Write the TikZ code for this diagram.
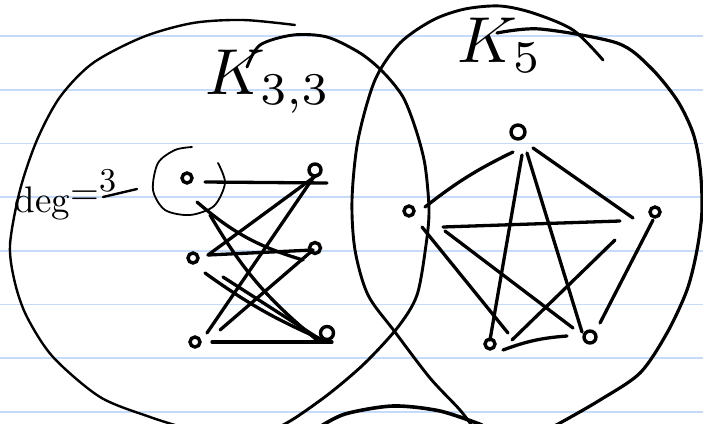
\documentclass[tikz,border=0pt]{standalone}
\usetikzlibrary{calc}
\definecolor{paper}{RGB}{198,219,247}
\begin{document}
\begin{tikzpicture}[x=1pt,y=-1pt,
  vtx/.style={circle,draw,line width=3.4pt,inner sep=0pt,minimum size=10pt},
  ed/.style={line width=3.3pt,line cap=round},
  ring/.style={line width=2.9pt,line cap=round},
  thinring/.style={line width=1.8pt,line cap=round},
  rule/.style={paper,line width=1.8pt},
  lbl/.style={inner sep=0pt}]
\fill[white] (0,0) rectangle (703,423);
\useasboundingbox (0,0) rectangle (703,423);
\clip (0,0) rectangle (703,423);
\foreach \y in {36,89.7,...,420} \draw[rule] (0,\y) -- (703,\y);

% big circles
\draw[ring,line width=2.4pt] plot[smooth] coordinates {(295,25) (243,20) (193,23) (143,37) (93,63) (60,97) (37,140) (20,190) (10,245) (15,283) (27,317) (53,357) (100,397) (150,417) (185,428)};
\draw[ring] plot[smooth] coordinates {(247,67) (260,45) (293,35) (327,37) (360,53) (383,72) (403,97) (416,130) (425,165) (429,210) (426,245) (417,295) (398,327) (365,363) (330,393) (295,418) (270,432)};
\draw[ring] plot[smooth] coordinates {(603,60) (573,30) (533,13) (500,6) (465,9) (433,20) (400,43) (375,80) (358,140) (352,200) (355,250) (368,295) (395,332) (430,378) (460,410) (475,430)};
\draw[ring,line width=3.2pt] plot[smooth] coordinates {(497,33) (540,29) (617,43) (650,67) (677,100) (693,133) (700,167) (702,210) (697,250) (687,290) (667,333) (640,373) (600,400) (560,423) (540,433)};
\draw[ring,line width=3.6pt] plot[smooth] coordinates {(318,428) (345,414) (393,406) (440,411) (482,425)};

% labels
\node[lbl,scale=6.5] (k33) at (268,82) {$K_{3,3}$};
\node[lbl,scale=6.5] (k5) at (500,45) {$K_5$};
\node[lbl,scale=3.7,anchor=base west] (deg) at (14,212) {deg\raisebox{0.2em}{=}\raisebox{0.55em}{\small 3}};
\coordinate (dA) at (103,197);
\coordinate (dB) at (137,189);
\draw[ed,line width=2.4pt] (dA) -- (dB);

% K33 vertices
\node[vtx] (L1) at (187,178) {};
\node[vtx] (L2) at (193,258) {};
\node[vtx] (L3) at (195,342) {};
\node[vtx,minimum size=12pt] (R1) at (315,170) {};
\node[vtx,minimum size=11pt] (R2) at (315,248) {};
\node[vtx,minimum size=13pt] (R3) at (327,333) {};

% ring around L1
\draw[thinring] plot[smooth] coordinates {(218,163) (225,183) (214,206) (190,215) (165,210) (153,190) (158,163) (175,150) (192,147)};

% K33 edges
\draw[ed] ($(L1)+(18,4)$) -- ($(R1)+(12,13)$);
\draw[ed] ($(L1)+(10,24)$) to[bend right=12] ($(R2)+(-12,12)$);
\draw[ed] ($(L1)+(23,37)$) to[bend right=10] ($(R3)+(-10,7)$);
\draw[ed] ($(L2)+(15,-3)$) -- ($(R1)+(2,5)$);
\draw[ed] ($(L2)+(15,-3)$) -- ($(R2)+(-2,2)$);
\draw[ed] ($(L2)+(12,15)$) to[bend right=6] ($(R3)+(-4,7)$);
\draw[ed] ($(L2)+(30,19)$) -- ($(R3)+(-9,5)$);
\draw[ed] ($(L3)+(12,-9)$) -- ($(R1)+(-2,8)$);
\draw[ed] ($(L3)+(25,-12)$) -- ($(R2)+(-2,2)$);
\draw[ed] ($(L3)+(17,0)$) -- ($(R3)+(5,9)$);

% K5 vertices
\node[vtx,minimum size=14pt] (T) at (518,132) {};
\node[vtx] (L) at (409,211) {};
\node[vtx] (R) at (655,212) {};
\node[vtx] (BL) at (490,344) {};
\node[vtx,minimum size=12pt] (BR) at (590,337) {};

% K5 edges
\draw[ed] ($(T)+(-5,20)$) to[bend right=6] ($(L)+(16,-4)$);
\draw[ed] ($(T)+(15,16)$) -- ($(R)+(-22,6)$);
\draw[ed] ($(T)+(4,23)$) -- ($(BL)+(0,-4)$);
\draw[ed] ($(T)+(9,21)$) -- ($(BR)+(-8,-5)$);
\draw[ed] ($(L)+(34,16)$) -- ($(R)+(-35,9)$);
\draw[ed] ($(L)+(36,20)$) -- ($(BR)+(-17,-9)$);
\draw[ed] ($(L)+(13,16)$) -- ($(BL)+(18,-11)$);
\draw[ed] ($(R)+(-40,28)$) -- ($(BL)+(22,-4)$);
\draw[ed] ($(R)+(-2,8)$) -- ($(BR)+(10,-14)$);
\draw[ed] ($(BL)+(13,6)$) to[bend left=8] ($(BR)+(-23,-1)$);
\end{tikzpicture}
\end{document}
